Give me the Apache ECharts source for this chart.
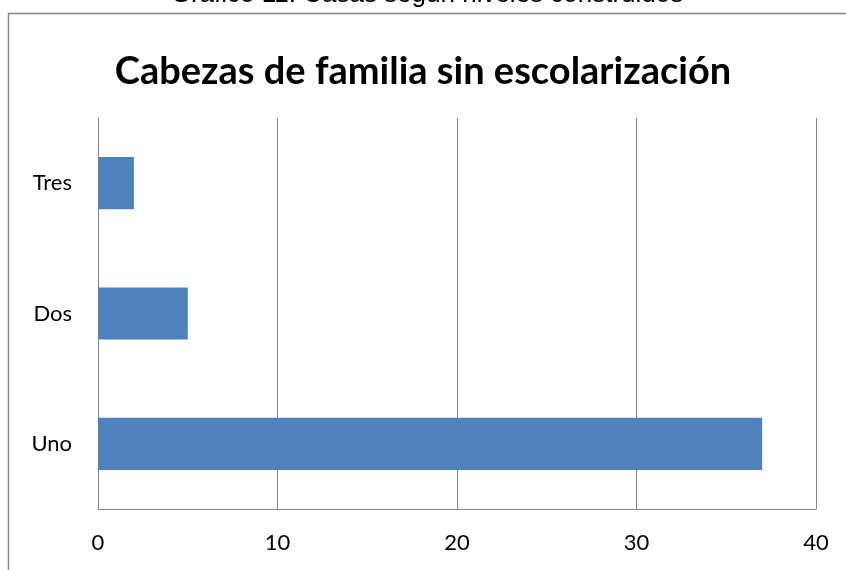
<!DOCTYPE html>
<html><head><meta charset="utf-8">
<script src="https://cdn.jsdelivr.net/npm/echarts@6/dist/echarts.min.js"></script>
<style>html,body{margin:0;padding:0;background:#fff}#c{width:846px;height:570px}</style>
</head><body><div id="c"></div>
<script>
const categories = ["Uno", "Dos", "Tres"];
const values = [37, 5, 2];
const xTicks = [0, 10, 20, 30, 40];
const chartTitle = "Cabezas de familia sin escolarización";
const caption = "Gráfico 11: Casas según niveles construidos";

const chart = echarts.init(document.getElementById('c'), null, {renderer: 'canvas'});
chart.setOption({
  animation: false,
  backgroundColor: '#fff',
  title: {
    text: chartTitle, left: 'center', top: 48,
    textStyle: {fontFamily: 'Lato', fontWeight: 'bold', fontSize: 38, color: '#000'}
  },
  graphic: [
    {type: 'rect', shape: {x: 8.5, y: 13.5, width: 900, height: 600},
     style: {fill: 'none', stroke: '#888', lineWidth: 1.5}, z: 0},
    {type: 'text', x: 427, y: -5,
     style: {text: caption, font: '26px "Liberation Sans"', fill: '#000', align: 'center', verticalAlign: 'middle'}}
  ],
  grid: {left: 98, right: 30, top: 118, bottom: 61, containLabel: false},
  xAxis: {
    type: 'value', min: xTicks[0], max: xTicks[xTicks.length - 1], interval: 10,
    axisLine: {show: true, lineStyle: {color: '#868686', width: 1}},
    axisTick: {show: false},
    splitLine: {show: true, lineStyle: {color: '#868686', width: 1}},
    axisLabel: {fontFamily: 'Lato', fontSize: 22, color: '#000', margin: 23}
  },
  yAxis: {
    type: 'category', data: categories,
    axisLine: {show: true, lineStyle: {color: '#868686', width: 1}},
    axisTick: {show: false},
    axisLabel: {fontFamily: 'Lato', fontSize: 22, color: '#000', margin: 26}
  },
  series: [{
    type: 'bar', data: values, barCategoryGap: '60%',
    itemStyle: {color: '#4f81bd'}
  }]
});
</script></body></html>
